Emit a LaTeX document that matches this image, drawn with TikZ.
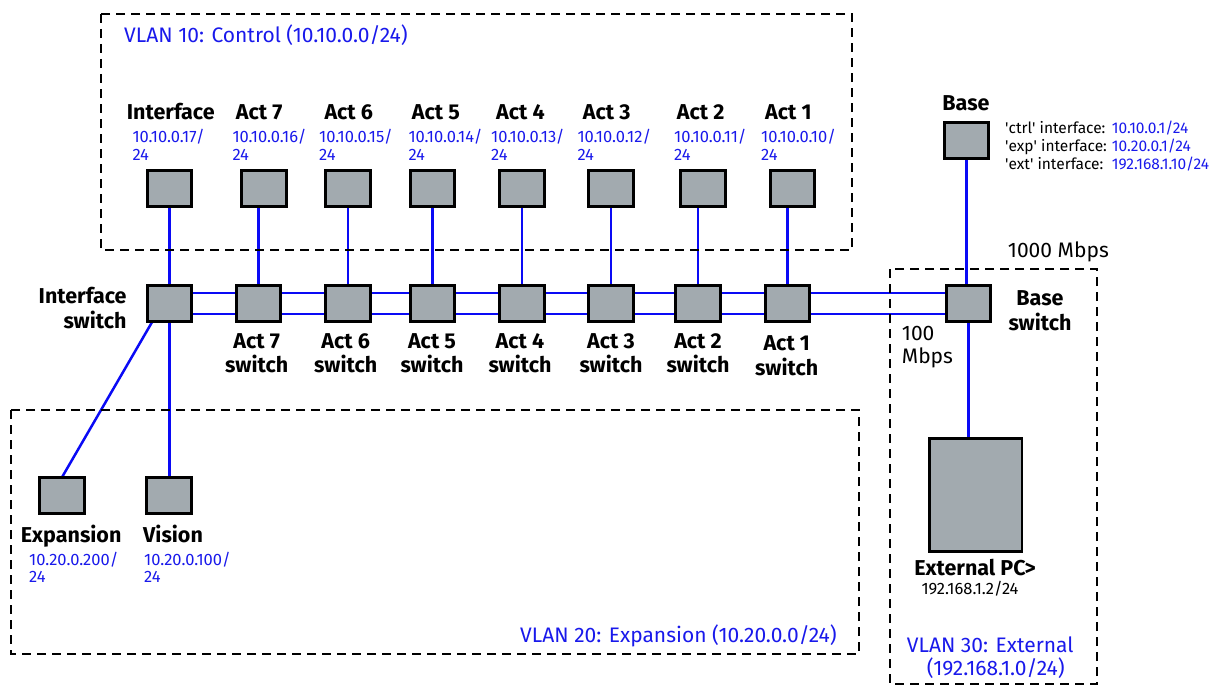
\documentclass[tikz,border=0pt]{standalone}
\usepackage{fontspec}
\setmainfont{Fira Sans}
\pgfdeclarelayer{bg}
\pgfsetlayers{bg,main}
\definecolor{boxgray}{RGB}{162,170,175}
\definecolor{lnblue}{RGB}{10,10,245}
\definecolor{ipblue}{RGB}{25,25,235}
\begin{document}
\begin{tikzpicture}[x=1pt,y=-1pt,
 dev/.style={draw=black,fill=boxgray,line width=2.6pt,minimum width=44.5pt,minimum height=36.5pt,inner sep=0pt,outer sep=0pt},
 lnk/.style={draw=lnblue,line width=2.5pt},
 vlanbox/.style={draw=black,line width=2.6pt,dash pattern=on 9pt off 6pt},
 lbl/.style={font=\bfseries\fontsize{21.5}{24.5}\selectfont,inner sep=0pt,align=center},
 ip/.style={text=ipblue,font=\fontsize{16.5}{17.3}\selectfont,inner sep=0pt,align=left,anchor=base west},
 vlan/.style={text=ipblue,font=\fontsize{21}{23.5}\selectfont,inner sep=0pt,align=left,anchor=base west},
 note/.style={font=\fontsize{21}{23}\selectfont,inner sep=0pt,align=left,anchor=base west},
 small/.style={font=\fontsize{15.5}{18}\selectfont,inner sep=0pt}
]
\useasboundingbox (0,0) rectangle (1215,685);

% VLAN frames
\draw[vlanbox] (101,14) rectangle (852,250);
\draw[vlanbox] (11,410) rectangle (859,654);
\draw[vlanbox] (890,269) rectangle (1097,684);

% top devices
\node[dev] (t0) at (169.5,188.5) {};
\node[dev] (t7) at (264,188.5) {};
\node[dev] (t6) at (348,188.5) {};
\node[dev] (t5) at (432.5,188.5) {};
\node[dev] (t4) at (522,188.5) {};
\node[dev] (t3) at (611,188.5) {};
\node[dev] (t2) at (703,188.5) {};
\node[dev] (t1) at (792.5,188.5) {};

% switches
\node[dev] (s0) at (169.5,303.5) {};
\node[dev] (s7) at (258.5,303.5) {};
\node[dev] (s6) at (348,303.5) {};
\node[dev] (s5) at (432.5,303.5) {};
\node[dev] (s4) at (522,303.5) {};
\node[dev] (s3) at (611,303.5) {};
\node[dev] (s2) at (698,303.5) {};
\node[dev] (s1) at (787.5,303.5) {};
\node[dev] (bs) at (968.5,303.5) {};

% base, pc, expansion, vision
\node[dev] (b) at (966.5,140.5) {};
\node[dev,minimum width=92.5pt,minimum height=113pt] (pc) at (975.8,495) {};
\node[dev] (e) at (62,495.5) {};
\node[dev] (v) at (169,495.5) {};

% connectors
\begin{pgfonlayer}{bg}
\foreach \n in {0,...,7}{
  \draw[lnk] (t\n.south -| s\n.north) -- (s\n.north);
}
\foreach \a/\c in {s0/s7,s7/s6,s6/s5,s5/s4,s4/s3,s3/s2,s2/s1,s1/bs}{
  \draw[lnk] ([yshift=10.5pt]\a.east) -- ([yshift=10.5pt]\c.west);
  \draw[lnk] ([yshift=-10.5pt]\a.east) -- ([yshift=-10.5pt]\c.west);
}
\draw[lnk] (b.south) -- (b.south |- bs.north);
\draw[lnk] (bs.south) -- (bs.south |- pc.north);
\draw[lnk] ([xshift=5pt]s0.south west) -- (e.north);
\draw[lnk] (s0.south) -- (s0.south |- v.north);
\end{pgfonlayer}

% VLAN labels
\node[vlan] (vl10) at (124,42.3) {VLAN 10: Control (10.10.0.0/24)};
\node[vlan] (vl20) at (520,642) {VLAN 20: Expansion (10.20.0.0/24)};
\node[vlan] (vl30) at (906.7,675.5) {VLAN 30: External\\\hspace*{20pt}(192.168.1.0/24)};

% top labels
\node[lbl,anchor=base west] (l0) at (126.7,119) {Interface};
\node[lbl,anchor=base west] (l7) at (235.7,119) {Act 7};
\node[lbl,anchor=base west] (l6) at (324.3,119) {Act 6};
\node[lbl,anchor=base west] (l5) at (411.7,119) {Act 5};
\node[lbl,anchor=base west] (l4) at (496,119) {Act 4};
\node[lbl,anchor=base west] (l3) at (582.7,119) {Act 3};
\node[lbl,anchor=base west] (l2) at (676.7,119) {Act 2};
\node[lbl,anchor=base west] (l1) at (765,119) {Act 1};

\node[ip] (i0) at (132.3,160) {10.10.0.17/\\24};
\node[ip] (i7) at (232.3,160) {10.10.0.16/\\24};
\node[ip] (i6) at (319,160) {10.10.0.15/\\24};
\node[ip] (i5) at (408.3,160) {10.10.0.14/\\24};
\node[ip] (i4) at (491,160) {10.10.0.13/\\24};
\node[ip] (i3) at (577.3,160) {10.10.0.12/\\24};
\node[ip] (i2) at (674,160) {10.10.0.11/\\24};
\node[ip] (i1) at (761,160) {10.10.0.10/\\24};

% switch labels
\node[lbl,anchor=base east,align=right] (ls0) at (126.7,328) {Interface\\switch};
\node[lbl,anchor=base] (ls7) at (256.7,372.7) {Act 7\\switch};
\node[lbl,anchor=base] (ls6) at (345.7,372.7) {Act 6\\switch};
\node[lbl,anchor=base] (ls5) at (432,372.7) {Act 5\\switch};
\node[lbl,anchor=base] (ls4) at (520,372.7) {Act 4\\switch};
\node[lbl,anchor=base] (ls3) at (611,372.7) {Act 3\\switch};
\node[lbl,anchor=base] (ls2) at (698,372.7) {Act 2\\switch};
\node[lbl,anchor=base] (ls1) at (786.7,375) {Act 1\\switch};
\node[lbl,anchor=base] (lbs) at (1040,330) {Base\\switch};

% base
\node[lbl,anchor=base] (lb) at (966,110.7) {Base};
\node[small,anchor=base west] (binfo) at (1005,169) {\begin{tabular}[b]{@{}l@{\hspace{5pt}}l@{}}
\textquotesingle ctrl\textquotesingle{} interface: & \textcolor{ipblue}{10.10.0.1/24}\\
\textquotesingle exp\textquotesingle{} interface: & \textcolor{ipblue}{10.20.0.1/24}\\
\textquotesingle ext\textquotesingle{} interface: & \textcolor{ipblue}{192.168.1.10/24}
\end{tabular}};
\node[note] (m1000) at (1007.7,257.7) {1000 Mbps};
\node[note] (m100) at (901.7,363) {100\\Mbps};

% external PC
\node[lbl,anchor=base] (lpc) at (975,575.7) {External PC>};
\node[small,anchor=base,font=\fontsize{16.5}{18}\selectfont] (ipc) at (970,594) {192.168.1.2/24};

% expansion / vision
\node[lbl,anchor=base west] (le) at (20.7,542.7) {Expansion};
\node[ip] (ie) at (29,582.7) {10.20.0.200/\\24};
\node[lbl,anchor=base west] (lv) at (143,542.7) {Vision};
\node[ip] (iv) at (144,582.7) {10.20.0.100/\\24};
\end{tikzpicture}
\end{document}
